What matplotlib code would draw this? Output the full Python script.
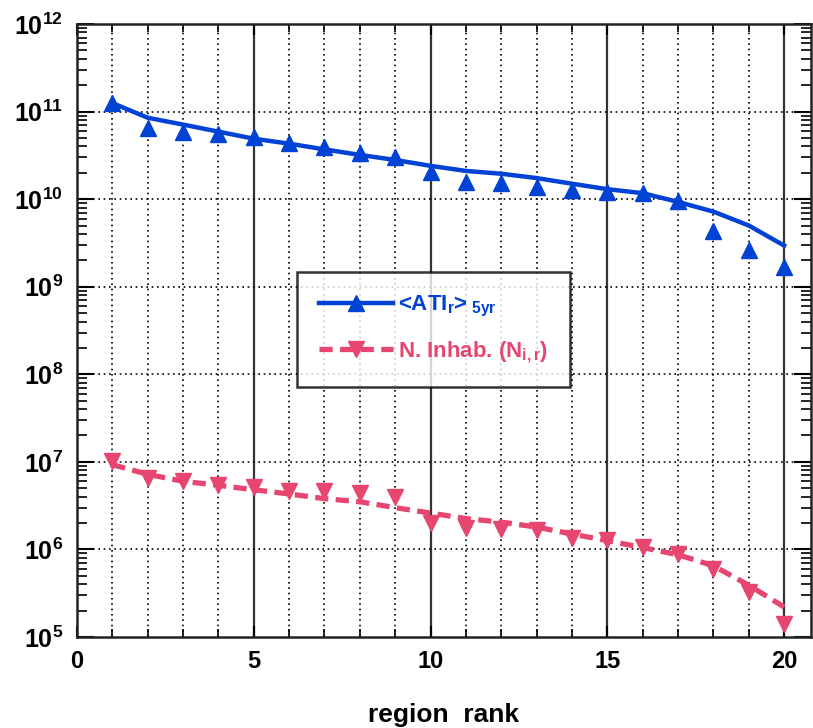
import matplotlib
matplotlib.use("Agg")
import matplotlib.pyplot as plt
import numpy as np
from matplotlib.lines import Line2D

plt.rcParams['font.family'] = ['Liberation Sans', 'DejaVu Sans']
plt.rcParams['font.weight'] = 'bold'
plt.rcParams['mathtext.fontset'] = 'custom'
plt.rcParams['mathtext.rm'] = 'Liberation Sans:bold'
plt.rcParams['mathtext.it'] = 'Liberation Sans:bold'
plt.rcParams['mathtext.bf'] = 'Liberation Sans:bold'
plt.rcParams['mathtext.default'] = 'regular'

# ---- data ----
rank = [1, 2, 3, 4, 5, 6, 7, 8, 9, 10, 11, 12, 13, 14, 15, 16, 17, 18, 19, 20]
ati_points = [1.25e11, 6.5e10, 5.8e10, 5.6e10, 5.1e10, 4.4e10, 3.9e10, 3.4e10, 3.0e10, 2.05e10,
              1.58e10, 1.52e10, 1.38e10, 1.26e10, 1.2e10, 1.17e10, 9.6e9, 4.3e9, 2.6e9, 1.7e9]
ati_fit = [1.25e11, 8.5e10, 7.1e10, 5.9e10, 4.9e10, 4.3e10, 3.7e10, 3.2e10, 2.8e10, 2.4e10,
           2.1e10, 1.95e10, 1.74e10, 1.5e10, 1.3e10, 1.17e10, 9.3e9, 7.2e9, 5.0e9, 2.95e9]
inhab_points = [1.03e7, 6.6e6, 6.0e6, 5.5e6, 5.2e6, 4.7e6, 4.6e6, 4.4e6, 4.0e6, 2.0e6,
                1.77e6, 1.7e6, 1.66e6, 1.35e6, 1.27e6, 1.07e6, 8.9e5, 6.0e5, 3.3e5, 1.4e5]
inhab_fit = [9.3e6, 7.2e6, 6.0e6, 5.4e6, 4.8e6, 4.3e6, 3.8e6, 3.5e6, 3.0e6, 2.6e6,
             2.25e6, 2.05e6, 1.8e6, 1.5e6, 1.26e6, 1.05e6, 8.7e5, 6.5e5, 3.9e5, 2.2e5]
x_ticks = [0, 5, 10, 15, 20]
y_decades = [5, 6, 7, 8, 9, 10, 11, 12]

blue = '#0042d4'
pink = '#e6466f'

fig = plt.figure(figsize=(8.13, 7.28), dpi=100)
ax = fig.add_axes([77/813, 1 - 637/728, (811 - 77)/813, (637 - 24)/728])
ax.set_yscale('log')
ax.set_xlim(0, 20.76)
ax.set_ylim(1e5, 1e12)

# grid
for xv in range(1, 21):
    if xv % 5 == 0:
        ax.axvline(xv, color='#333333', lw=1.6, zorder=1)
    else:
        ax.axvline(xv, color='black', lw=1.2, ls=(0, (1, 2.2)), zorder=1)
for d in y_decades[1:-1]:
    ax.axhline(10.0 ** d, color='black', lw=1.2, ls=(0, (1, 2.2)), zorder=1)

dash = (0, (2.5, 1.4))
ax.plot(rank, ati_fit, color=blue, lw=3.2, zorder=3)
ax.plot(rank, ati_points, ls='none', marker='^', ms=11, color=blue, zorder=4)
ax.plot(rank, inhab_fit, color=pink, lw=3.8, ls=dash, zorder=3)
ax.plot(rank, inhab_points, ls='none', marker='v', ms=11, color=pink, zorder=4)

# ticks
ax.set_xticks(x_ticks)
ax.set_xticklabels([str(t) for t in x_ticks])
ax.set_xticks(range(0, 21), minor=True)
ax.set_yticks([10.0 ** d for d in y_decades])
ax.set_yticklabels([r'$10^{%d}$' % d for d in y_decades])
ax.tick_params(axis='both', which='both', direction='in', top=True, right=True, colors='black')
ax.tick_params(axis='y', which='major', length=12, width=1.5, labelsize=18, pad=10)
ax.tick_params(axis='y', which='minor', length=7, width=1.2)
ax.tick_params(axis='x', which='major', length=8, width=1.5, labelsize=17, pad=9)
ax.tick_params(axis='x', which='minor', length=6, width=1.2)
for sp in ax.spines.values():
    sp.set_linewidth(1.8)
    sp.set_color('#222222')

ax.set_xlabel('region  rank', fontsize=19, fontweight='bold', labelpad=22)

# legend
h1 = Line2D([], [], color=blue, lw=3.2, marker='^', ms=11)
h2 = Line2D([], [], color=pink, lw=3.8, ls=dash, marker='v', ms=11)
leg = ax.legend([h1, h2], [r'<ATI$_{r}$>$_{\ 5yr}$', r'N. Inhab. (N$_{i,r}$)'],
                loc='upper left', bbox_to_anchor=((297 - 77) / 734, 1 - (272 - 24) / 613),
                fontsize=16, frameon=True, fancybox=False, handlelength=3.3,
                borderpad=1.0, labelspacing=0.9, handletextpad=0.25, borderaxespad=0)
leg.get_frame().set_edgecolor('black')
leg.get_frame().set_linewidth(1.8)
leg.get_texts()[0].set_color(blue)
leg.get_texts()[1].set_color(pink)
leg.set_zorder(6)

fig.savefig('out.png', dpi=100)
